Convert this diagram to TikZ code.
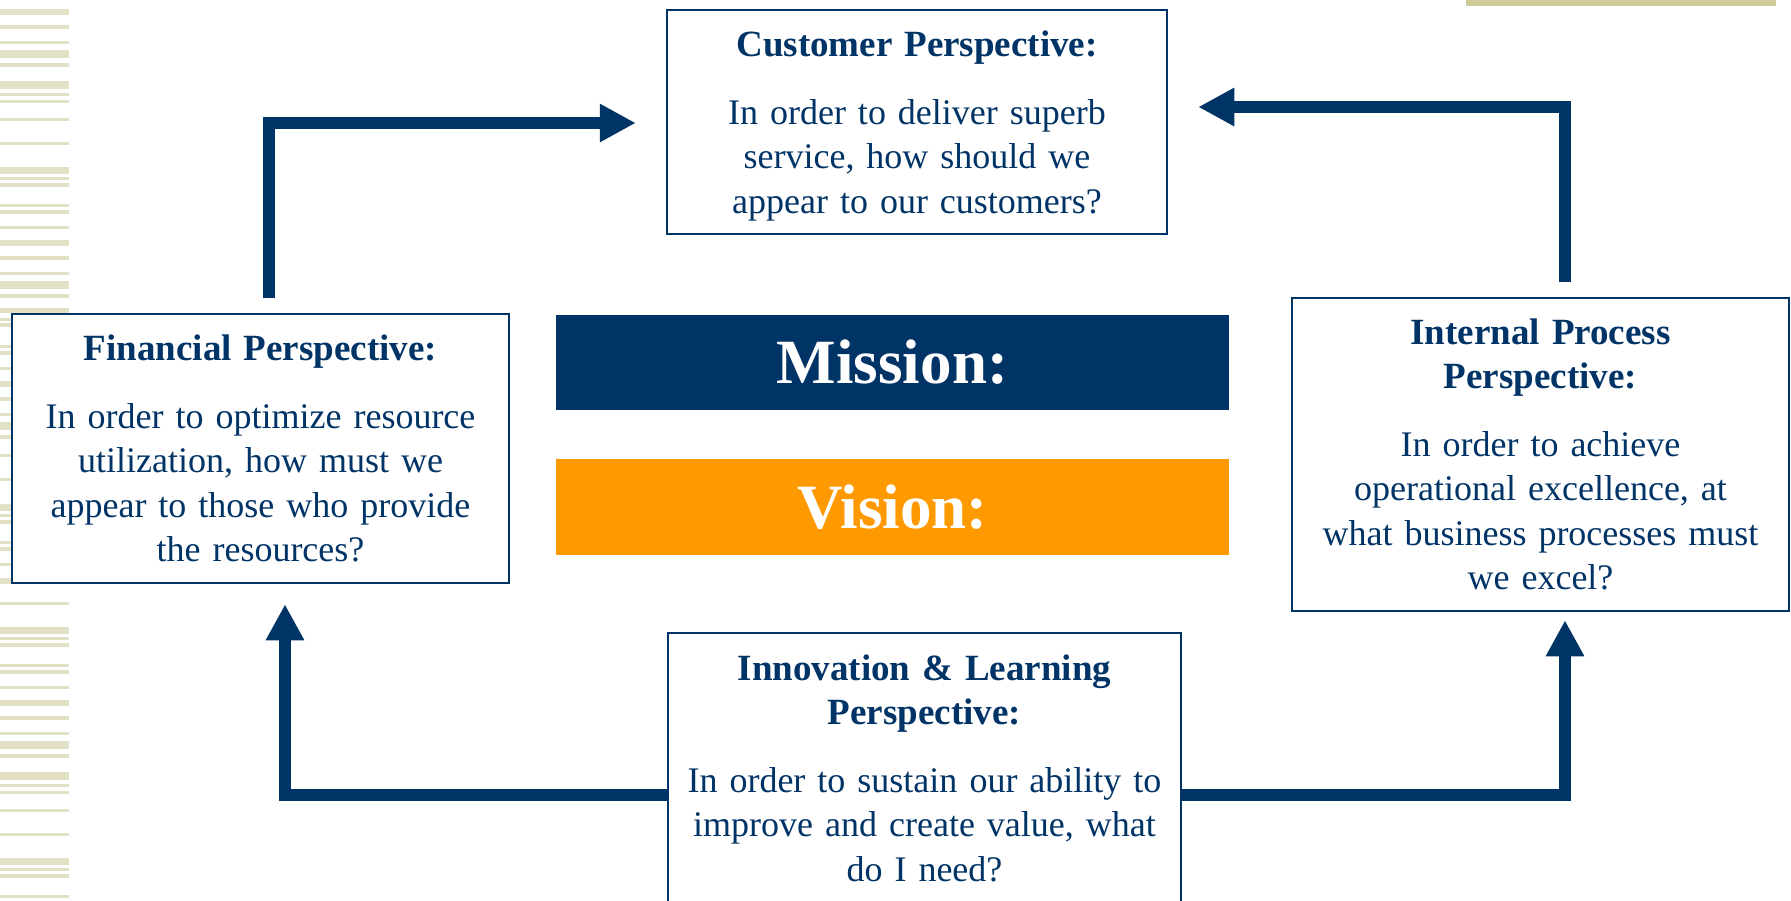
\documentclass[tikz,border=0pt]{standalone}
\usepackage{fontspec}
\setmainfont{Liberation Serif}
\usetikzlibrary{arrows.meta,calc}
\definecolor{navy}{HTML}{003366}
\definecolor{amber}{HTML}{FF9900}
\definecolor{stripe}{HTML}{E3E1C5}
\definecolor{khaki}{HTML}{CECB98}
\tikzset{
  persp/.style={draw=navy, line width=2.5pt, fill=white, text=navy, align=center,
    inner sep=0pt, font=\fontsize{36}{44.5}\selectfont},
  banner/.style={inner sep=0pt, text=white, font=\fontsize{63}{70}\selectfont\bfseries,
    minimum width=673pt},
  flow/.style={draw=navy, line width=12pt, line join=miter,
    -{Triangle[width=36pt,length=36pt]}},
}
\newcommand{\ptitle}[1]{{\fontsize{37}{44.5}\selectfont\bfseries #1}}
\begin{document}
\begin{tikzpicture}[x=1pt,y=-1pt]
  \useasboundingbox (0,0) rectangle (1791,900);
  \clip (0,0) rectangle (1791,900);
  \fill[white] (0,0) rectangle (1791,900);

  % left-hand striped margin
  \foreach \a/\b in {9/15,25/29,41/44,50/58,63/67,81/89,93/96,100/103,118/121,142/145,
      167/174,177/180,183/187,204/207,210/214,226/229,240/246,256/260,272/275,281/289,
      294/298,308/313,318/321,323/327,345/348,351/355,367/370,381/387,397/401,413/416,
      422/430,435/439,454/457,478/481,504/511,514/517,520/524,541/544,547/551,563/566,
      578/584,602/605,627/634,637/640,643/647,664/667,670/674,686/689,700/706,716/720,
      732/735,741/749,754/758,772/780,784/787,791/794,809/812,833/836,858/865,868/871,
      874/878,895/898}
    \fill[stripe] (0,\a) rectangle (69,\b);

  % accent bar in the top right corner
  \fill[khaki] (1466,0) rectangle (1776,6);

  % perspective boxes
  \node[persp, minimum width=500pt, minimum height=224pt, text width=480pt] (cust) at (917,122)
    {\rule{0pt}{34pt}\ptitle{Customer Perspective:}\\[23pt]
     In order to deliver superb\\ service, how should we\\ appear to our customers?};
  \node[persp, minimum width=497pt, minimum height=269pt, text width=477pt] (fin) at (260.5,448.5)
    {\ptitle{Financial Perspective:}\\[23pt]
     In order to optimize resource\\ utilization, how must we\\ appear to those who provide\\ the resources?};
  \node[persp, minimum width=497pt, minimum height=313pt, text width=477pt] (ip) at (1540.5,454.5)
    {\ptitle{Internal Process}\\ \ptitle{Perspective:}\\[23pt]
     In order to achieve\\ operational excellence, at\\ what business processes must\\ we excel?};
  \node[persp, minimum width=513pt, minimum height=270pt, text width=493pt] (inn) at (924.5,768)
    {\ptitle{Innovation \& Learning}\\ \ptitle{Perspective:}\\[23pt]
     In order to sustain our ability to\\ improve and create value, what\\ do I need?};

  % mission and vision banners
  \node[banner, fill=navy, minimum height=95pt] (mission) at (892.5,362.5) {Mission:};
  \node[banner, fill=amber, minimum height=96pt] (vision) at (892.5,507) {Vision:};

  % cause-and-effect loop
  \coordinate (tl) at (269,123);
  \coordinate (tr) at (1565,107);
  \coordinate (bl) at (285,795);
  \coordinate (br) at (1565,795);
  \draw[flow, shorten <=15pt, shorten >=30pt] (tl |- fin.north) -- (tl) -- (tl -| cust.west);
  \draw[flow, shorten <=15pt, shorten >=30pt] (tr |- ip.north) -- (tr) -- (tr -| cust.east);
  \draw[flow, shorten >=20pt] (bl -| inn.west) -- (bl) -- (bl |- fin.south);
  \draw[flow, shorten >=8pt] (br -| inn.east) -- (br) -- (br |- ip.south);
\end{tikzpicture}
\end{document}
